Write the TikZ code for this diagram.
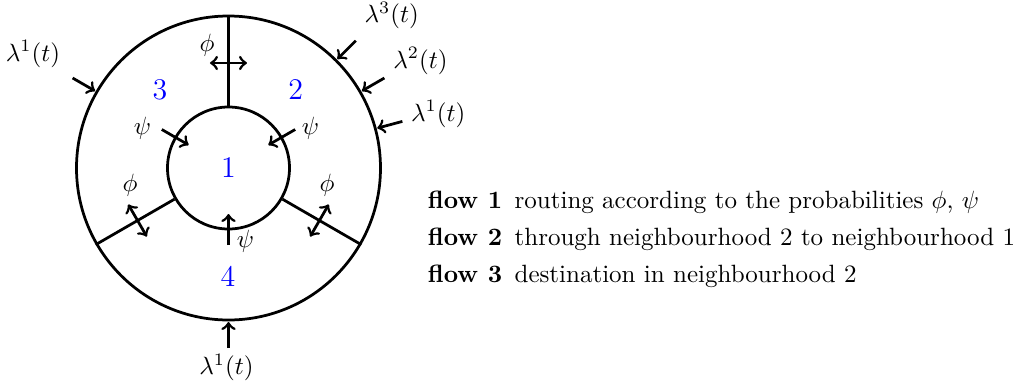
\documentclass[tikz,border=0pt]{standalone}
\begin{document}
\begin{tikzpicture}[x=0.4pt,y=0.4pt,line width=1.1pt,
  num/.style={text=blue,font=\large},
  ring/.style={draw,circle,inner sep=0pt},
  lbl/.style={inner sep=0pt},
  flowtext/.style={anchor=base west,inner sep=0pt},
  inarrow/.style={->},
  dblarrow/.style={<->}]
\useasboundingbox (-228.5,-220) rectangle (786.5,168);
\coordinate (C) at (0,0);
% rings
\node[ring,minimum size=121.6pt] (outer) at (C) {};
\node[ring,minimum size=48.8pt,num] (inner) at (C) {1};
% spokes
\draw (inner.90) -- (outer.90);
\draw (inner.210) -- (outer.210);
\draw (inner.330) -- (outer.330);
% region numbers
\node[num] (n2) at (67.2,78) {2};
\node[num] (n3) at (-68.5,78) {3};
\node[num] (n4) at (-0.5,-108.7) {4};
% phi arrows
\coordinate (pa1) at (-18.5,105); \coordinate (pa2) at (18.5,105);
\coordinate (pb1) at (-100.2,-36.5); \coordinate (pb2) at (-81.7,-68.5);
\coordinate (pc1) at (100.2,-36.5); \coordinate (pc2) at (81.7,-68.5);
\draw[dblarrow] (pa1) -- (pa2);
\draw[dblarrow] (pb1) -- (pb2);
\draw[dblarrow] (pc1) -- (pc2);
\node[lbl] (phia) at (-21.5,123) {$\phi$};
\node[lbl] (phib) at (-98.5,-17) {$\phi$};
\node[lbl] (phic) at (98.5,-17) {$\phi$};
% psi arrows
\coordinate (sa1) at (150:77); \coordinate (sa2) at (150:46);
\coordinate (sb1) at (30:77);  \coordinate (sb2) at (30:46);
\coordinate (sc1) at (270:77); \coordinate (sc2) at (270:46);
\draw[inarrow] (sa1) -- (sa2);
\draw[inarrow] (sb1) -- (sb2);
\draw[inarrow] (sc1) -- (sc2);
\node[lbl] (psia) at (-86,40) {$\psi$};
\node[lbl] (psib) at (82,40) {$\psi$};
\node[lbl] (psic) at (17,-73) {$\psi$};
% lambda arrows
\coordinate (la1) at (150:180); \coordinate (la2) at (150:154);
\coordinate (lb1) at (45:180);  \coordinate (lb2) at (45:154);
\coordinate (lc1) at (30:180);  \coordinate (lc2) at (30:154);
\coordinate (ld1) at (15:180);  \coordinate (ld2) at (15:154);
\coordinate (le1) at (270:180); \coordinate (le2) at (270:154);
\draw[inarrow] (la1) -- (la2);
\draw[inarrow] (lb1) -- (lb2);
\draw[inarrow] (lc1) -- (lc2);
\draw[inarrow] (ld1) -- (ld2);
\draw[inarrow] (le1) -- (le2);
\node[lbl] (lama) at (-195.5,114) {$\lambda^1(t)$};
\node[lbl] (lamb) at (163.2,152.5) {$\lambda^3(t)$};
\node[lbl] (lamc) at (192,107) {$\lambda^2(t)$};
\node[lbl] (lamd) at (209.8,54) {$\lambda^1(t)$};
\node[lbl] (lame) at (-2,-199.5) {$\lambda^1(t)$};
% legend
\node[flowtext] (f1) at (198,-40) {\textbf{flow 1}\hspace{5pt}routing according to the probabilities $\phi$, $\psi$};
\node[flowtext] (f2) at (198,-77) {\textbf{flow 2}\hspace{5pt}through neighbourhood 2 to neighbourhood 1};
\node[flowtext] (f3) at (198,-114) {\textbf{flow 3}\hspace{5pt}destination in neighbourhood 2};
\end{tikzpicture}
\end{document}
